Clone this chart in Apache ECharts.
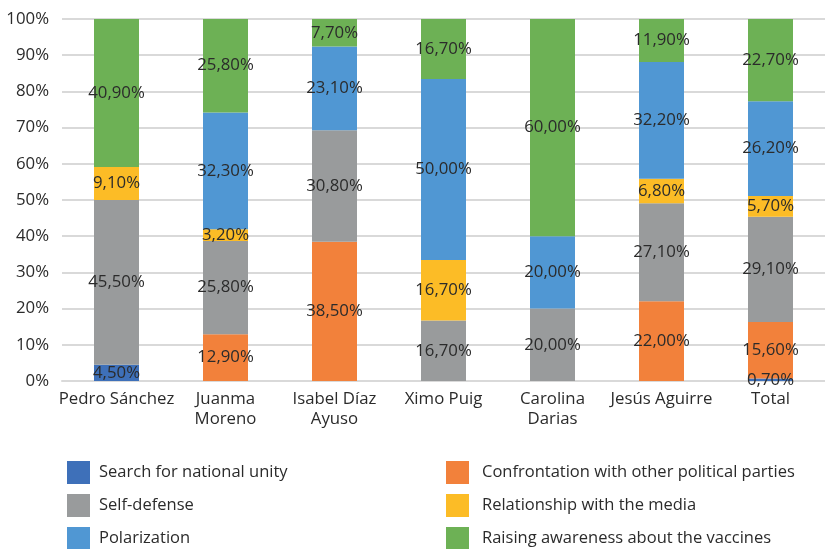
<!DOCTYPE html>
<html><head><meta charset="utf-8">
<script src="https://cdn.jsdelivr.net/npm/echarts@6/dist/echarts.min.js"></script>
<style>html,body{margin:0;padding:0;background:#fff}#c{width:825px;height:549px}</style>
</head><body><div id="c"></div>
<script>
const categories = ['Pedro Sánchez','Juanma\nMoreno','Isabel Díaz\nAyuso','Ximo Puig','Carolina\nDarias','Jesús Aguirre','Total'];
const unity      = [4.5, 0, 0, 0, 0, 0, 0.7];
const confront   = [0, 12.9, 38.5, 0, 0, 22.0, 15.6];
const selfDef    = [45.5, 25.8, 30.8, 16.7, 20.0, 27.1, 29.1];
const media      = [9.1, 3.2, 0, 16.7, 0, 6.8, 5.7];
const polar      = [0, 32.3, 23.1, 50.0, 20.0, 32.2, 26.2];
const awareness  = [40.9, 25.8, 7.7, 16.7, 60.0, 11.9, 22.7];
const yTicks = [0,10,20,30,40,50,60,70,80,90,100];

const FONT = 'Open Sans';
const fmt = p => p.value ? p.value.toFixed(2).replace('.', ',') + '%' : '';
function ser(name, data, color) {
  return {
    name, type: 'bar', stack: 's', data, barWidth: 45,
    itemStyle: { color },
    label: { show: true, position: 'inside', formatter: fmt, color: '#2b2b2b', fontSize: 16.8, fontFamily: FONT },
    emphasis: { disabled: true }
  };
}
const chart = echarts.init(document.getElementById('c'));
chart.setOption({
  animation: false,
  textStyle: { fontFamily: FONT },
  grid: { left: 62, top: 19, width: 770, bottom: 168, containLabel: false },
  xAxis: {
    type: 'category', data: categories,
    axisLine: { lineStyle: { color: '#d9d9d9', width: 2 } },
    axisTick: { show: false },
    axisLabel: { interval: 0, color: '#2b2b2b', fontSize: 16.8, fontFamily: FONT, lineHeight: 20, margin: 8 }
  },
  yAxis: {
    type: 'value', min: 0, max: 100, interval: 10,
    axisLine: { show: false }, axisTick: { show: false },
    splitLine: { lineStyle: { color: '#d9d9d9', width: 2 } },
    axisLabel: { color: '#2b2b2b', fontSize: 16.8, fontFamily: FONT, margin: 13,
      formatter: v => yTicks.includes(v) ? v + '%' : '' }
  },
  legend: [
    { orient: 'vertical', left: 67, top: 461, height: 120, padding: 0, itemWidth: 23, itemHeight: 23, itemGap: 10,
      icon: 'rect', data: ['Search for national unity', 'Self-defense', 'Polarization'],
      textStyle: { color: '#2b2b2b', fontSize: 16.5, fontFamily: FONT, padding: [0,0,0,4] } },
    { orient: 'vertical', left: 446, top: 461, height: 120, padding: 0, itemWidth: 23, itemHeight: 23, itemGap: 10,
      icon: 'rect', data: ['Confrontation with other political parties', 'Relationship with the media', 'Raising awareness about the vaccines'],
      textStyle: { color: '#2b2b2b', fontSize: 16.5, fontFamily: FONT, padding: [0,0,0,8] } }
  ],
  series: [
    ser('Search for national unity', unity, '#3e70b9'),
    ser('Confrontation with other political parties', confront, '#f2813b'),
    ser('Self-defense', selfDef, '#999b9c'),
    ser('Relationship with the media', media, '#fcbc26'),
    ser('Polarization', polar, '#5097d3'),
    ser('Raising awareness about the vaccines', awareness, '#6db155')
  ]
});
</script></body></html>
